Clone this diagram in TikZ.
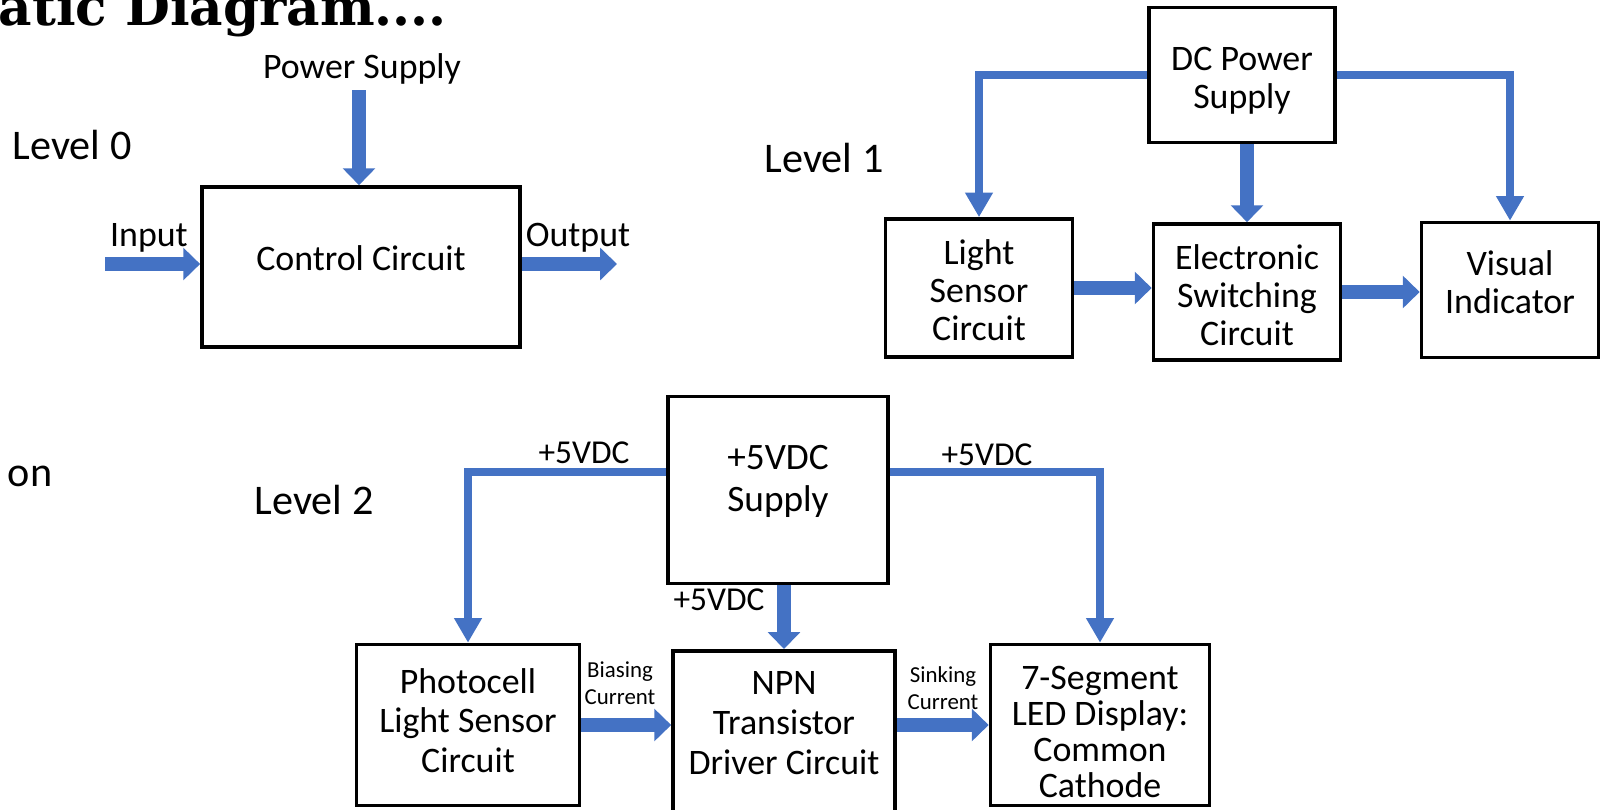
\documentclass[tikz,border=0pt]{standalone}
\usepackage{fontspec}
\setmainfont{Carlito}
\newfontfamily\titlefont{DejaVu Serif}
\usepackage{xcolor}
\usetikzlibrary{arrows.meta,positioning}
\definecolor{arrowblue}{HTML}{4472C4}

\begin{document}
\begin{tikzpicture}[
    x=0.01cm, y=-0.01cm,
    box/.style={rectangle, draw, line width=1pt, inner sep=0pt},
    boxtext/.style={inner sep=0pt, align=center, font=\fontsize{10.2}{10.8}\selectfont},
    txt/.style={inner sep=0pt, font=\fontsize{10.2}{11.2}\selectfont},
    levellabel/.style={inner sep=0pt, font=\fontsize{12}{14}\selectfont},
    volt/.style={inner sep=0pt, font=\fontsize{9.5}{10}\selectfont},
    small/.style={inner sep=0pt, align=center, font=\fontsize{6.5}{7.8}\selectfont},
    feed/.style={draw=arrowblue, line width=2.3pt, -{Triangle[width=7.5pt,length=7pt]}},
    flow/.style={draw=arrowblue, line width=3.9pt, -{Triangle[width=9pt,length=4.8pt]}}
]
    \useasboundingbox (0,0) rectangle (1600,809);
    \clip (0,0) rectangle (1600,809);

    \node[anchor=base west, inner sep=0pt, font=\titlefont\bfseries\fontsize{14.7}{18}\selectfont] (title) at (-2,25) {atic Diagram....};

    % Level 0
    \node[levellabel] (lvl0) at (72,145) {Level 0};
    \node[box, minimum width=3.18cm, minimum height=1.6cm] (ctrl) at (361,267) {};
    \node[boxtext] (ctrl-t) at ([yshift=0.09cm]ctrl.center) {Control Circuit};
    \node[txt] (pwrtxt) at (362,69) {Power Supply};
    \node[txt] (intxt) at (149,238) {Input};
    \node[txt] (outtxt) at (578,238) {Output};
    \coordinate (pwr) at (359,90);
    \coordinate (in) at (105,264);
    \coordinate (out) at (617,264);

    \draw[flow] (pwr) -- (pwr |- ctrl.north);
    \draw[flow] (in) -- (ctrl.west |- in);
    \draw[flow] (ctrl.east |- out) -- (out);

    % Level 1
    \node[levellabel] (lvl1) at (824,158) {Level 1};
    \node[box, minimum width=1.86cm, minimum height=1.35cm] (dc) at (1242,75) {};
    \node[boxtext] (dc-t) at ([yshift=-0.055cm]dc.center) {DC Power\\Supply};
    \node[box, minimum width=1.87cm, minimum height=1.38cm] (ls) at (979,288) {};
    \node[boxtext] (ls-t) at ([yshift=-0.025cm]ls.center) {Light\\Sensor\\Circuit};
    \node[box, minimum width=1.87cm, minimum height=1.36cm] (sw) at (1247,292) {};
    \node[boxtext] (sw-t) at ([yshift=-0.03cm]sw.center) {Electronic\\Switching\\Circuit};
    \node[box, minimum width=1.77cm, minimum height=1.35cm] (vis) at (1510,290) {};
    \node[boxtext] (vis-t) at ([yshift=0.075cm]vis.center) {Visual\\Indicator};

    \draw[feed] (dc.west) -| (ls.north);
    \draw[feed] (dc.east) -| (vis.north);
    \draw[flow] (dc.south -| sw.north) -- (sw.north);
    \draw[flow] (ls.east) -- (sw.west |- ls.east);
    \draw[flow] (sw.east) -- (vis.west |- sw.east);

    % Level 2
    \node[levellabel] (on) at (30,476) {on};
    \node[levellabel] (lvl2) at (314,500) {Level 2};
    \node[box, minimum width=2.2cm, minimum height=1.87cm] (sup) at (778,490) {};
    \node[boxtext, font=\fontsize{10.6}{12}\selectfont] (sup-t) at ([yshift=0.085cm]sup.center) {+5VDC\\Supply};
    \node[box, minimum width=2.23cm, minimum height=1.61cm] (photo) at (468,725) {};
    \node[boxtext, font=\fontsize{10.2}{11.2}\selectfont] (photo-t) at ([yshift=0.045cm]photo.center) {Photocell\\Light Sensor\\Circuit};
    \node[box, minimum width=2.22cm, minimum height=1.61cm, anchor=north] (npn) at (784,649) {};
    \node[boxtext, font=\fontsize{10.2}{11.4}\selectfont] (npn-t) at ([yshift=0.085cm]npn.center) {NPN\\Transistor\\Driver Circuit};
    \node[box, minimum width=2.19cm, minimum height=1.61cm] (seg) at (1100,725) {};
    \node[boxtext, font=\fontsize{10.2}{10.3}\selectfont] (seg-t) at ([yshift=-0.07cm]seg.center) {7-Segment\\LED Display:\\Common\\Cathode};

    \draw[feed] ([yshift=0.18cm]sup.west) -| (photo.north);
    \draw[feed] ([yshift=0.18cm]sup.east) -| (seg.north);
    \draw[flow] (sup.south -| npn.north) -- (npn.north);
    \draw[flow] (photo.east) -- (npn.west |- photo.east);
    \draw[flow] (npn.east |- seg.west) -- (seg.west);

    \node[volt] (v1) at (584,453) {+5VDC};
    \node[volt] (v2) at (987,455) {+5VDC};
    \node[volt] (v3) at (719,600) {+5VDC};
    \node[small] (bias) at (620,683) {Biasing\\Current};
    \node[small] (sink) at (943,688) {Sinking\\Current};
\end{tikzpicture}
\end{document}
